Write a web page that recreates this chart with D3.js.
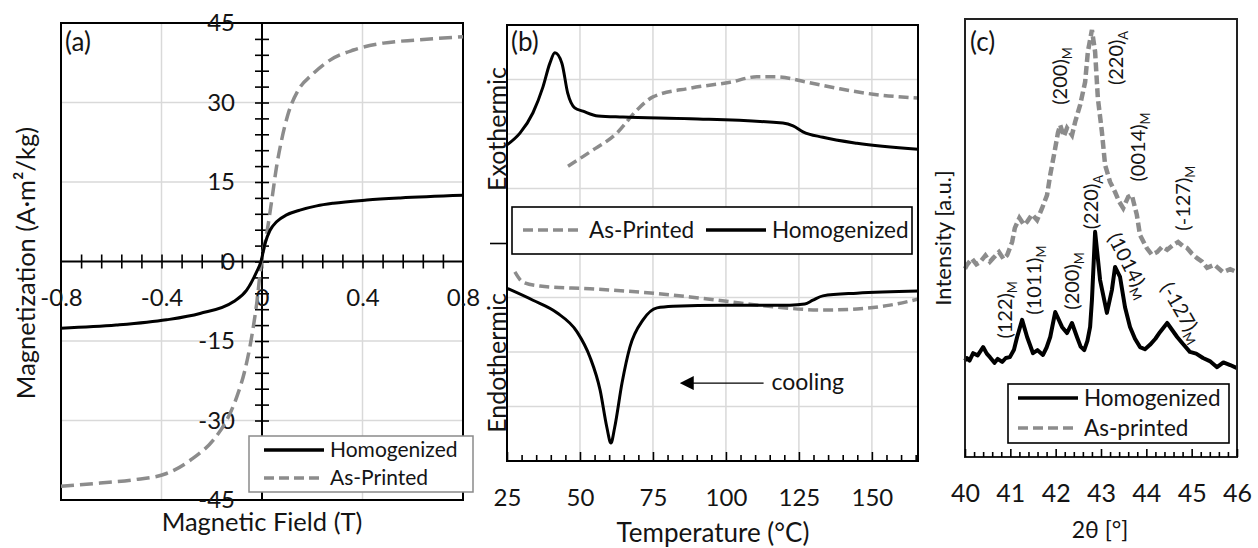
<!DOCTYPE html>
<html>
<head>
<meta charset="utf-8">
<script src="https://cdn.jsdelivr.net/npm/d3@7.9.0/dist/d3.min.js"></script>
<style>
  body { margin: 0; background: #fff; }
  text { font-family: Lato, "Open Sans", sans-serif; fill: #141414; }
</style>
</head>
<body>
<svg id="chart" width="1258" height="548"></svg>
<script>
// (a) magnetization vs field
const homogH = [-0.8, -0.58, -0.38, -0.247, -0.114, -0.061, -0.021, -0.004, 0.012, 0.032, 0.058, 0.098, 0.151, 0.218, 0.284, 0.417, 0.55, 0.8];
const homogM = [-12.6, -12.0, -11.0, -9.8, -7.6, -5.4, -1.9, 0, 3.4, 5.9, 7.5, 8.8, 9.7, 10.5, 11.0, 11.6, 12.0, 12.5];
const printedH = [-0.8, -0.645, -0.513, -0.38, -0.274, -0.194, -0.14, -0.1, -0.068, -0.041, -0.021, -0.002, 0.019, 0.039, 0.058, 0.078, 0.105, 0.145, 0.198, 0.271, 0.364, 0.483, 0.616, 0.8];
const printedM = [-42.4, -41.8, -41.2, -40.0, -37.1, -33.7, -29.9, -25.5, -20.5, -14.2, -7.9, 0, 5.3, 11.6, 17.9, 22.9, 28.0, 32.4, 35.2, 38.0, 39.9, 41.2, 41.8, 42.4];
const fieldTicks = [-0.8, -0.4, 0, 0.4, 0.8];
const magTicks = [-45, -30, -15, 0, 15, 30, 45];

// (b) DSC, heating (upper) and cooling (lower)
const homogHeatT = [25, 29.5, 33.9, 37.3, 39.7, 41.4, 43.8, 45.8, 48.2, 51.0, 56.2, 64.7, 87.7, 119.5, 123, 126.4, 133.2, 144.9, 165.8];
const homogHeat = [1.80, 2.02, 2.39, 2.86, 3.30, 3.49, 3.30, 2.75, 2.48, 2.42, 2.33, 2.31, 2.28, 2.20, 2.15, 2.04, 1.94, 1.83, 1.72];
const printedHeatT = [45.9, 53.4, 62.7, 69.5, 75, 87.7, 101.4, 110.6, 117.5, 127.7, 139, 150.4, 165.8];
const printedHeat = [1.41, 1.67, 2.02, 2.44, 2.68, 2.84, 2.95, 3.05, 3.05, 2.95, 2.83, 2.73, 2.66];
const homogCoolT = [25, 33.9, 42.1, 49, 53.4, 56.9, 59.2, 60.6, 61.9, 64.4, 67.1, 71.6, 76.4, 81.9, 98.9, 121.9, 127, 129.8, 133.2, 144.9, 165.8];
const homogCool = [-0.83, -1.05, -1.28, -1.63, -2.09, -2.70, -3.38, -3.67, -3.38, -2.57, -1.91, -1.41, -1.19, -1.16, -1.14, -1.14, -1.12, -1.05, -0.97, -0.92, -0.88];
const printedCoolT = [27.7, 30.5, 36.3, 53.4, 70.5, 87.7, 104.8, 116.1, 133.2, 144.9, 156.2, 165.8];
const printedCool = [-0.53, -0.72, -0.79, -0.84, -0.90, -0.99, -1.10, -1.17, -1.23, -1.21, -1.14, -1.03];
const tempTicks = [25, 50, 75, 100, 125, 150];

// (c) XRD
const printedTheta = [40.0, 40.04, 40.15, 40.25, 40.33, 40.45, 40.55, 40.62, 40.75, 40.85, 40.93, 41.04, 41.10, 41.2, 41.3, 41.37, 41.48, 41.59, 41.70, 41.81, 41.88, 41.99, 42.05, 42.10, 42.18, 42.25, 42.36, 42.43, 42.54, 42.65, 42.71, 42.80, 42.87, 42.93, 43.02, 43.09, 43.20, 43.31, 43.40, 43.49, 43.60, 43.68, 43.79, 43.86, 44.01, 44.12, 44.24, 44.35, 44.46, 44.59, 44.70, 44.80, 44.90, 45.0, 45.12, 45.23, 45.34, 45.5, 45.69, 45.85, 46.0];
const printedInt = [43.0, 43.8, 45.3, 44.0, 44.5, 46.0, 44.6, 45.4, 46.8, 45.2, 46.1, 49.1, 52.3, 54.6, 53.0, 53.7, 55.4, 54.1, 56.8, 59.8, 64.4, 70.5, 74.0, 75.8, 73.2, 75.1, 73.5, 76.5, 80.4, 85.6, 92.5, 97.5, 92.5, 82.0, 74.2, 66.7, 62.8, 60.5, 58.3, 56.8, 59.4, 59.8, 55.3, 50.7, 47.7, 46.2, 46.8, 48.0, 47.3, 48.4, 49.1, 48.2, 47.7, 46.5, 45.4, 44.6, 43.2, 43.9, 42.2, 42.9, 42.2];
const homogTheta = [40.0, 40.04, 40.1, 40.18, 40.28, 40.40, 40.48, 40.55, 40.65, 40.72, 40.82, 40.9, 40.99, 41.08, 41.15, 41.26, 41.37, 41.50, 41.6, 41.72, 41.8, 41.88, 41.99, 42.14, 42.25, 42.36, 42.47, 42.55, 42.63, 42.7, 42.76, 42.80, 42.87, 42.98, 43.13, 43.24, 43.31, 43.42, 43.53, 43.64, 43.75, 43.86, 43.97, 44.08, 44.2, 44.30, 44.46, 44.57, 44.68, 44.8, 44.96, 45.1, 45.25, 45.4, 45.56, 45.7, 45.85, 46.0];
const homogInt = [22.0, 22.6, 22.0, 23.7, 23.2, 25.1, 23.6, 22.8, 21.5, 22.4, 21.7, 22.6, 22.8, 24.5, 27.4, 31.3, 27.4, 23.7, 24.4, 23.3, 25.0, 27.4, 33.1, 29.7, 28.3, 30.6, 27.4, 25.2, 24.4, 26.5, 29.7, 35.8, 51.4, 40.4, 32.9, 38.1, 43.4, 41.1, 34.2, 29.7, 27.0, 25.1, 24.6, 25.6, 27.0, 28.5, 30.6, 29.0, 27.4, 25.9, 24.0, 23.6, 22.6, 21.9, 20.5, 21.6, 21.0, 20.3];
const thetaTicks = [40, 41, 42, 43, 44, 45, 46];
const peakHkl = ["(200)", "(220)", "(0014)", "(-127)", "(122)", "(1011)", "(200)", "(220)", "(1014)", "(-127)"];
const peakPhase = ["M", "A", "M", "M", "M", "M", "M", "A", "M", "M"];
const peakTheta = [42.10, 43.33, 43.82, 44.81, 40.88, 41.52, 42.36, 42.78, 43.62, 44.79];
const peakInt = [87.0, 91.1, 70.8, 59.1, 33.6, 40.4, 40.2, 58.2, 43.8, 33.1];
const peakRot = [-90, -90, -90, -90, -90, -90, -90, -90, 63, 60];

const GRID = "#d9d9d9";
const GRAY = "#8c8c8c";
const svg = d3.select("#chart");

function zip(xs, ys) {
  return xs.map((x, i) => [x, ys[i]]);
}

function styleAxis(g, size) {
  g.attr("font-size", size).attr("font-family", null).attr("color", "#000");
  g.selectAll("text").style("fill", "#141414");
  g.select(".domain").remove();
  g.selectAll("line").attr("stroke-width", 1.6);
}

function legendRow(g, x, y, label, dashed, size) {
  g.append("line")
    .attr("x1", x)
    .attr("x2", x + 60)
    .attr("y1", y)
    .attr("y2", y)
    .attr("stroke", dashed ? GRAY : "#000")
    .attr("stroke-width", 3.5)
    .attr("stroke-dasharray", dashed ? "10,5" : null);
  g.append("text")
    .attr("x", x + 66)
    .attr("y", y)
    .attr("dy", "0.35em")
    .attr("font-size", size)
    .text(label);
}

// ---------- panel (a) ----------
const xA = d3.scaleLinear([-0.8, 0.8], [61, 463]);
const yA = d3.scaleLinear([-45, 45], [500, 23]);
const gA = svg.append("g");

gA.selectAll(".vg")
  .data([-0.4, 0.4])
  .join("line")
  .attr("x1", xA)
  .attr("x2", xA)
  .attr("y1", yA(45))
  .attr("y2", yA(-45))
  .attr("stroke", GRID)
  .attr("stroke-width", 1.5);
gA.selectAll(".hg")
  .data([-30, -15, 15, 30])
  .join("line")
  .attr("x1", xA(-0.8))
  .attr("x2", xA(0.8))
  .attr("y1", yA)
  .attr("y2", yA)
  .attr("stroke", GRID)
  .attr("stroke-width", 1.5);

gA.append("rect")
  .attr("x", xA(-0.8))
  .attr("y", yA(45))
  .attr("width", xA(0.8) - xA(-0.8))
  .attr("height", yA(-45) - yA(45))
  .attr("fill", "none")
  .attr("stroke", "#000")
  .attr("stroke-width", 2);

// axes crossing at the origin
gA.append("line")
  .attr("x1", xA(0)).attr("x2", xA(0))
  .attr("y1", yA(45)).attr("y2", yA(-45))
  .attr("stroke", "#000").attr("stroke-width", 2);
gA.append("line")
  .attr("x1", xA(-0.8)).attr("x2", xA(0.8))
  .attr("y1", yA(0)).attr("y2", yA(0))
  .attr("stroke", "#000").attr("stroke-width", 2);

gA.append("g")
  .attr("transform", `translate(${xA(0) + 7},0)`)
  .call(d3.axisLeft(yA).tickValues(d3.range(-42, 43, 3)).tickSize(14).tickFormat(""))
  .call(styleAxis, 24);
gA.append("g")
  .attr("transform", `translate(0,${yA(0) - 7})`)
  .call(d3.axisBottom(xA).tickValues(d3.range(-9, 10).map((i) => i * 0.08)).tickSize(14).tickFormat(""))
  .call(styleAxis, 24);
gA.append("g")
  .attr("transform", `translate(${xA(0)},0)`)
  .call(d3.axisLeft(yA).tickValues(magTicks).tickSize(0).tickPadding(27).tickFormat((d) => String(d)))
  .call(styleAxis, 24);
gA.append("g")
  .attr("transform", `translate(0,${yA(0)})`)
  .call(d3.axisBottom(xA).tickValues(fieldTicks).tickSize(0).tickPadding(27).tickFormat((d) => String(d)))
  .call(styleAxis, 24);

const lineA = d3.line().x((d) => xA(d[0])).y((d) => yA(d[1])).curve(d3.curveMonotoneX);
gA.append("path")
  .attr("d", lineA(zip(printedH, printedM)))
  .attr("fill", "none")
  .attr("stroke", GRAY)
  .attr("stroke-width", 3.5)
  .attr("stroke-dasharray", "13,6");
gA.append("path")
  .attr("d", lineA(zip(homogH, homogM)))
  .attr("fill", "none")
  .attr("stroke", "#000")
  .attr("stroke-width", 3);

const legA = gA.append("g");
legA.append("rect")
  .attr("x", 249).attr("y", 436).attr("width", 224).attr("height", 56)
  .attr("fill", "#fff").attr("stroke", "#8a8a8a").attr("stroke-width", 1.5);
legendRow(legA, 264, 450, "Homogenized", false, 21);
legendRow(legA, 264, 478, "As-Printed", true, 21);

gA.append("text").attr("x", 65).attr("y", 51).attr("font-size", 26).text("(a)");
gA.append("text")
  .attr("transform", `translate(35,263) rotate(-90)`)
  .attr("text-anchor", "middle")
  .attr("font-size", 25.5)
  .text("Magnetization (A·m²/kg)");
gA.append("text")
  .attr("x", 262).attr("y", 531)
  .attr("text-anchor", "middle")
  .attr("font-size", 25.5)
  .text("Magnetic Field (T)");

// ---------- panel (b) ----------
const xB = d3.scaleLinear([25, 165.8], [507, 918]);
const yB = d3.scaleLinear([-4, 4], [461, 25]);
const gB = svg.append("g");

gB.selectAll(".vg")
  .data([50, 75, 100, 125, 150])
  .join("line")
  .attr("x1", xB).attr("x2", xB)
  .attr("y1", yB(4)).attr("y2", yB(-4))
  .attr("stroke", GRID).attr("stroke-width", 1.5);
gB.selectAll(".hg")
  .data([-3, -2, -1, 1, 2, 3])
  .join("line")
  .attr("x1", xB(25)).attr("x2", xB(165.8))
  .attr("y1", yB).attr("y2", yB)
  .attr("stroke", GRID).attr("stroke-width", 1.5);

const lineB = d3.line().x((d) => xB(d[0])).y((d) => yB(d[1])).curve(d3.curveMonotoneX);
[[printedHeatT, printedHeat], [printedCoolT, printedCool]].forEach(([t, v]) => {
  gB.append("path")
    .attr("d", lineB(zip(t, v)))
    .attr("fill", "none")
    .attr("stroke", GRAY)
    .attr("stroke-width", 3.5)
    .attr("stroke-dasharray", "10,5");
});
[[homogHeatT, homogHeat], [homogCoolT, homogCool]].forEach(([t, v]) => {
  gB.append("path")
    .attr("d", lineB(zip(t, v)))
    .attr("fill", "none")
    .attr("stroke", "#000")
    .attr("stroke-width", 3);
});

gB.append("rect")
  .attr("x", xB(25)).attr("y", yB(4))
  .attr("width", xB(165.8) - xB(25)).attr("height", yB(-4) - yB(4))
  .attr("fill", "none").attr("stroke", "#000").attr("stroke-width", 2);

gB.append("g")
  .attr("transform", `translate(0,${yB(-4)})`)
  .call(d3.axisBottom(xB).tickValues(d3.range(30, 166, 5).filter((d) => d % 25 !== 0)).tickSize(-6).tickFormat(""))
  .call(styleAxis, 24);
gB.append("g")
  .attr("transform", `translate(0,${yB(-4)})`)
  .call(d3.axisBottom(xB).tickValues(tempTicks).tickSize(-9).tickPadding(28).tickFormat((d) => String(d)))
  .call(styleAxis, 24);
gB.append("g")
  .attr("transform", `translate(${xB(25)},0)`)
  .call(d3.axisLeft(yB).tickValues([0]).tickSize(17).tickFormat(""))
  .call(styleAxis, 24);

// cooling arrow
svg.append("defs")
  .append("marker")
  .attr("id", "head")
  .attr("viewBox", "0 0 10 10")
  .attr("refX", 1).attr("refY", 5)
  .attr("markerWidth", 14).attr("markerHeight", 14)
  .attr("markerUnits", "userSpaceOnUse")
  .attr("orient", "auto-start-reverse")
  .append("path")
  .attr("d", "M0,0L10,5L0,10z")
  .attr("fill", "#000");
gB.append("line")
  .attr("x1", xB(112.9)).attr("x2", xB(88.5))
  .attr("y1", yB(-2.57)).attr("y2", yB(-2.57))
  .attr("stroke", "#000").attr("stroke-width", 1.2)
  .attr("marker-end", "url(#head)");
gB.append("text")
  .attr("x", xB(115.6)).attr("y", yB(-2.57))
  .attr("dy", "0.3em")
  .attr("font-size", 23)
  .text("cooling");

const legB = gB.append("g");
legB.append("rect")
  .attr("x", 512).attr("y", 207).attr("width", 400).attr("height", 47)
  .attr("fill", "#fff").attr("stroke", "#000").attr("stroke-width", 1.6);
legendRow(legB, 523, 230, "As-Printed", true, 22.5);
legendRow(legB, 706, 230, "Homogenized", false, 22.5);

gB.append("text").attr("x", 511).attr("y", 51).attr("font-size", 26).text("(b)");
gB.append("text")
  .attr("transform", `translate(506,129) rotate(-90)`)
  .attr("text-anchor", "middle")
  .attr("font-size", 25)
  .text("Exothermic");
gB.append("text")
  .attr("transform", `translate(506,363) rotate(-90)`)
  .attr("text-anchor", "middle")
  .attr("font-size", 25)
  .text("Endothermic");
gB.append("text")
  .attr("x", 713).attr("y", 542)
  .attr("text-anchor", "middle")
  .attr("font-size", 26)
  .text("Temperature (°C)");

// ---------- panel (c) ----------
const xC = d3.scaleLinear([40, 46], [965, 1237]);
const yC = d3.scaleLinear([0, 100], [457, 19]);
const gC = svg.append("g");

const lineC = d3.line().x((d) => xC(d[0])).y((d) => yC(d[1]));
gC.append("path")
  .attr("d", lineC(zip(printedTheta, printedInt)))
  .attr("fill", "none")
  .attr("stroke", GRAY)
  .attr("stroke-width", 4.5)
  .attr("stroke-dasharray", "9,4");
gC.append("path")
  .attr("d", lineC(zip(homogTheta, homogInt)))
  .attr("fill", "none")
  .attr("stroke", "#000")
  .attr("stroke-width", 4)
  .attr("stroke-linejoin", "round");

peakHkl.forEach((hkl, i) => {
  const t = gC.append("text")
    .attr("transform", `translate(${xC(peakTheta[i])},${yC(peakInt[i])}) rotate(${peakRot[i]})`)
    .attr("text-anchor", "middle")
    .attr("dy", "0.35em")
    .attr("font-size", 20);
  t.append("tspan").text(hkl);
  t.append("tspan").attr("font-size", 13).attr("dy", 5).text(peakPhase[i]);
});

gC.append("rect")
  .attr("x", xC(40)).attr("y", yC(100))
  .attr("width", xC(46) - xC(40)).attr("height", yC(0) - yC(100))
  .attr("fill", "none").attr("stroke", "#222").attr("stroke-width", 2);

gC.append("g")
  .attr("transform", `translate(0,${yC(0)})`)
  .call(d3.axisBottom(xC).tickValues(d3.range(1, 30).map((i) => 40 + i * 0.2).filter((d) => Math.abs(d - Math.round(d)) > 0.01)).tickSize(-5).tickFormat(""))
  .call(styleAxis, 25);
gC.append("g")
  .attr("transform", `translate(0,${yC(0)})`)
  .call(d3.axisBottom(xC).tickValues(thetaTicks).tickSize(-8).tickPadding(27).tickFormat((d) => String(d)))
  .call(styleAxis, 25);

const legC = gC.append("g");
legC.append("rect")
  .attr("x", 1008).attr("y", 384).attr("width", 221).attr("height", 59)
  .attr("fill", "#fff").attr("stroke", "#000").attr("stroke-width", 1.6);
legendRow(legC, 1018, 398, "Homogenized", false, 22.5);
legendRow(legC, 1018, 428, "As-printed", true, 22.5);

gC.append("text").attr("x", 970).attr("y", 51).attr("font-size", 26).text("(c)");
gC.append("text")
  .attr("transform", `translate(951,238) rotate(-90)`)
  .attr("text-anchor", "middle")
  .attr("font-size", 22)
  .text("Intensity [a.u.]");
gC.append("text")
  .attr("x", 1100).attr("y", 538)
  .attr("text-anchor", "middle")
  .attr("font-size", 23)
  .text("2θ [°]");
</script>
</body>
</html>
